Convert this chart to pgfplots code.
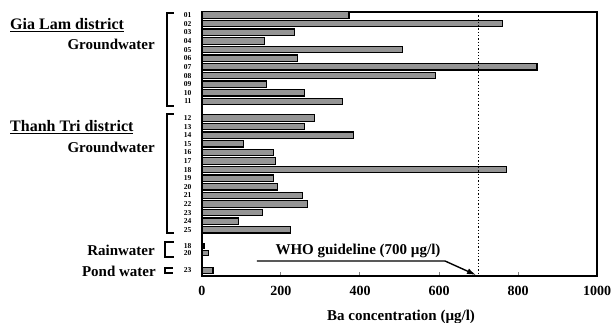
\documentclass[border=0pt]{standalone}
\usepackage{fontspec}
\setmainfont{Liberation Serif}
\usepackage{pgfplots}
\pgfplotsset{compat=1.18}
\usepackage{pgfplotstable}
\usetikzlibrary{arrows.meta}

\pgfplotstableread{
y v
15.0 372
23.65 760
32.3 235
40.95 159
49.6 508
58.25 242
66.9 848
75.55 591
84.2 164
92.85 260
101.5 356
}\gialam
\pgfplotstableread{
y v
118.0 285
126.6 260
135.2 384
143.8 106
152.4 182
161.0 187
169.6 770
178.2 182
186.8 192
195.4 255
204.0 268
212.6 153
221.2 93
229.8 225
}\thanhtri
\pgfplotstableread{
y v
246.0 5
253.0 17
}\rain
\pgfplotstableread{
y v
270.5 28
}\pond

\newcommand{\fs}[1]{\fontsize{#1}{#1}\selectfont\bfseries}
\pgfplotsset{barst/.style={xbar, bar shift=0pt, draw=black, line width=1.2pt, fill=black!42}}

\begin{document}
\begin{tikzpicture}[x=1pt,y=1pt]
\useasboundingbox (-202,-47) rectangle (409,276);
\begin{axis}[
  at={(0,0)}, anchor=south west,
  scale only axis, width=395pt, height=264pt,
  xmin=0, xmax=1000, ymin=12, ymax=276, y dir=reverse,
  axis line style={line width=1.1pt},
  xtick={0,200,400,600,800,1000},
  xticklabels={0,200,400,600,800,1000},
  xtick pos=bottom, tick align=inside,
  major tick length=4pt,
  xtick style={line width=1pt},
  xticklabel style={font=\fs{14}, yshift=-7pt},
  ytick={15.0,23.65,32.3,40.95,49.6,58.25,66.9,75.55,84.2,92.85,101.5,118.0,126.6,135.2,143.8,152.4,161.0,169.6,178.2,186.8,195.4,204.0,212.6,221.2,229.8,246,253,270.5},
  yticklabels={01,02,03,04,05,06,07,08,09,10,11,12,13,14,15,16,17,18,19,20,21,22,23,24,25,18,20,23},
  ytick style={draw=none},
  yticklabel style={font=\fs{7.5}, anchor=east, xshift=-7pt},
  /pgf/number format/assume math mode=true,
  xlabel={Ba concentration (µg/l)},
  xlabel style={font=\fs{15}, at={(axis description cs:0.504,0)}, anchor=center, yshift=-41pt},
  clip=false,
]
\addplot[barst, bar width=6.4] table[x=v,y=y]{\gialam};
\addplot[barst, bar width=6.4] table[x=v,y=y]{\thanhtri};
\addplot[barst, bar width=5.2] table[x=v,y=y]{\rain};
\addplot[barst, bar width=5.5] table[x=v,y=y]{\pond};
\draw[dotted, line width=1.3pt] (axis cs:700,12) -- (axis cs:700,276);
\end{axis}
% brackets
\draw[line width=1.3pt] (-28,263) -- (-35,263) -- (-35,170) -- (-28,170);
\draw[line width=1.3pt] (-28,162) -- (-35,162) -- (-35,43) -- (-28,43);
\draw[line width=1.3pt] (-28,34) -- (-37,34) -- (-37,19) -- (-28,19);
\draw[line width=1.3pt] (-29,8) -- (-37,8) -- (-37,3) -- (-29,3);
% labels
\node[anchor=west, inner sep=0] at (-192,251) {\fs{16}\underline{Gia Lam district}};
\node[anchor=east, inner sep=0] at (-47,232) {\fs{15}Groundwater};
\node[anchor=west, inner sep=0] at (-192,149) {\fs{16}\underline{Thanh Tri district}};
\node[anchor=east, inner sep=0] at (-47,129) {\fs{15}Groundwater};
\node[anchor=east, inner sep=0] at (-47,26) {\fs{15}Rainwater};
\node[anchor=east, inner sep=0] at (-46,5) {\fs{15}Pond water};
% WHO annotation
\node[inner sep=0] at (156,25) {\fs{15}WHO guideline (700 µg/l)};
\draw[line width=1.4pt, -{Latex[length=9pt,width=6pt]}] (55,15) -- (243,15) -- (274,1);
\end{tikzpicture}
\end{document}
